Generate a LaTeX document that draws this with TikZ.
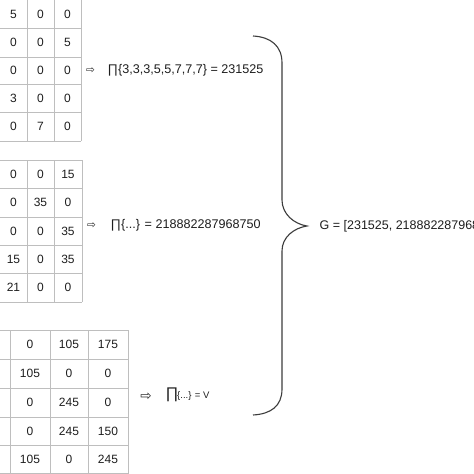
\documentclass[tikz,border=0pt]{standalone}
\usepackage{fontspec}
\setmainfont{Liberation Sans}
\newfontfamily\djv{DejaVu Sans}
\definecolor{gridc}{HTML}{BEBEBE}
\definecolor{txt}{HTML}{1E1E1E}
\definecolor{bracec}{HTML}{3C3C3C}
\begin{document}
\begin{tikzpicture}[x=1pt,y=-1pt,
  gridline/.style={draw=gridc, line width=0.9pt},
  cell/.style={font=\fontsize{12}{13}\selectfont, text=txt, inner sep=0pt, anchor=center},
  arr/.style={font=\djv\fontsize{10.5}{11}\selectfont, text=txt, inner sep=0pt, anchor=center},
  ann/.style={font=\fontsize{12.6}{13}\selectfont, text=txt, inner sep=0pt, anchor=west},
  gtext/.style={font=\fontsize{12.5}{13}\selectfont, text=txt, inner sep=0pt, anchor=west},
  bracepath/.style={draw=bracec, line width=1.1pt}]
\useasboundingbox (0,0) rectangle (474,474);
\clip (0,0) rectangle (474,474);
\fill[white] (0,0) rectangle (474,474);

% ---------- table 1 ----------
\foreach \y in {28,57,84,112,141} \draw[gridline] (-2,\y) -- (81,\y);
\foreach \x in {27,54,81} \draw[gridline] (\x,-2) -- (\x,141);
\foreach \r/\yy/\a/\b/\c in {1/14/5/0/0, 2/42.5/0/0/5, 3/70.5/0/0/0, 4/98/3/0/0, 5/126.5/0/7/0}{
  \node[cell] (ta-\r-1) at (13.5,\yy) {\a};
  \node[cell] (ta-\r-2) at (40.5,\yy) {\b};
  \node[cell] (ta-\r-3) at (67.5,\yy) {\c};
}

% ---------- table 2 ----------
\foreach \y in {160,188,217,245,273,302} \draw[gridline] (-2,\y) -- (82,\y);
\foreach \x in {27,54,82} \draw[gridline] (\x,160) -- (\x,302);
\foreach \r/\yy/\a/\b/\c in {1/174/0/0/15, 2/202.5/0/35/0, 3/231/0/0/35, 4/259/15/0/35, 5/287.5/21/0/0}{
  \node[cell] (tb-\r-1) at (13.5,\yy) {\a};
  \node[cell] (tb-\r-2) at (40.5,\yy) {\b};
  \node[cell] (tb-\r-3) at (68,\yy) {\c};
}

% ---------- table 3 ----------
\foreach \y in {330,359,388,417,445,473} \draw[gridline] (-2,\y) -- (128,\y);
\foreach \x in {10,50,88,128} \draw[gridline] (\x,330) -- (\x,476);
\foreach \r/\yy/\a/\b/\c in {1/344.5/0/105/175, 2/373.5/105/0/0, 3/402.5/0/245/0, 4/431/0/245/150, 5/459/105/0/245}{
  \node[cell] (tc-\r-1) at (30,\yy) {\a};
  \node[cell] (tc-\r-2) at (69,\yy) {\b};
  \node[cell] (tc-\r-3) at (108,\yy) {\c};
}

% ---------- products ----------
\node[arr] (arrA) at (90.5,70.5) {⇨};
\node[ann] (prodA) at (107.5,70.5) {∏\{3,3,3,5,5,7,7,7\} = 231525};

\node[arr] (arrB) at (91.5,225.5) {⇨};
\node[ann] (prodB) at (110.5,225.5) {∏\{...\} = 218882287968750};

\node[arr, font=\djv\fontsize{13.5}{14}\selectfont] (arrC) at (146,396.5) {⇨};
\node[ann, font=\fontsize{15.5}{16}\selectfont] (piC) at (165.5,395) {∏};
\node[ann, font=\fontsize{9.5}{10}\selectfont] (prodC) at (177,396.5) {\{...\} = V};

% ---------- brace ----------
\draw[bracepath] (253,36) .. controls (271,37) and (282,46) .. (282,63)
  -- (282,200) .. controls (282,214) and (294,224) .. (307,226)
  .. controls (294,228) and (282,237) .. (282,251)
  -- (282,389) .. controls (282,406) and (271,414) .. (253,415);

\node[gtext] (G) at (319.5,226) {G = [231525, 218882287968750, V]};
\end{tikzpicture}
\end{document}
